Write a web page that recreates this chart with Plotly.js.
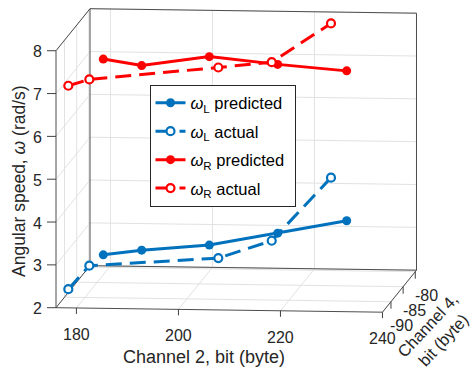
<!DOCTYPE html>
<html><head><meta charset="utf-8">
<script src="https://cdn.plot.ly/plotly-3.0.1.min.js"></script>
<style>html,body{margin:0;padding:0;background:#fff}#chart{width:470px;height:376px}</style>
</head><body><div id="chart"></div>
<script>
// ---- data (Channel 2 = x, Channel 4 = y, angular speed = z) ----
const ch2Pred = [182.65, 189.70, 202.48, 215.41, 228.46];
const ch4Pred = [-88, -87, -86, -85, -84];
const wLPred = [2.86, 2.91, 2.98, 3.21, 3.45];
const wRPred = [7.43, 7.22, 7.38, 7.15, 6.95];
const ch2Act = [177.70, 178.96, 204.72, 214.24, 224.43];
const ch4Act = [-92, -86, -87, -85, -82];
const wLAct = [2.33, 2.46, 2.75, 3.03, 4.31];
const wRAct = [7.08, 6.81, 7.20, 7.20, 7.91];
const xTicks = [180, 200, 220, 240];
const yTicks = [-90, -85, -80];
const zTicks = [2, 3, 4, 5, 6, 7, 8];
const xRange = [176, 240], yRange = [-93.5, -79.5], zRange = [2, 8];

// ---- 3D view (orthographic, MATLAB-like) ----
const VIEW = {az: 6.03, el: 7.5};
const BOX = {x0: 56, y0: 307.7, lx: 328.3, ly: 323.7, lz: 259.2};
const T = VIEW.az * Math.PI / 180, P = VIEW.el * Math.PI / 180;
function proj(x, y, z) {
  const u = (x - xRange[0]) / (xRange[1] - xRange[0]);
  const v = (y - yRange[0]) / (yRange[1] - yRange[0]);
  const w = (z - zRange[0]) / (zRange[1] - zRange[0]);
  const px = BOX.x0 + BOX.lx * u * Math.cos(T) + BOX.ly * v * Math.sin(T);
  const py = BOX.y0 + BOX.lx * u * Math.sin(P) * Math.sin(T) - BOX.ly * v * Math.sin(P) * Math.cos(T) - BOX.lz * w * Math.cos(P);
  return [px, py];
}
function segTrace(pairs, color, width) {
  const xs = [], ys = [];
  pairs.forEach(([a, b]) => { const pa = proj(...a), pb = proj(...b); xs.push(pa[0], pb[0], null); ys.push(pa[1], pb[1], null); });
  return {type: 'scatter', mode: 'lines', x: xs, y: ys, line: {color: color, width: width}, hoverinfo: 'skip', showlegend: false};
}
function tickTrace(pts, dx, dy) {
  const xs = [], ys = [];
  pts.forEach(p => { const q = proj(...p); xs.push(q[0], q[0] + dx, null); ys.push(q[1], q[1] + dy, null); });
  return {type: 'scatter', mode: 'lines', x: xs, y: ys, line: {color: '#404040', width: 1}, hoverinfo: 'skip', showlegend: false};
}
const [x0, x1] = xRange, [y0, y1] = yRange, [z0, z1] = zRange;
const grid = [];
zTicks.forEach(z => { grid.push([[x0, y1, z], [x1, y1, z]]); grid.push([[x0, y0, z], [x0, y1, z]]); });
xTicks.forEach(x => { grid.push([[x, y1, z0], [x, y1, z1]]); grid.push([[x, y0, z0], [x, y1, z0]]); });
yTicks.forEach(y => { grid.push([[x0, y, z0], [x0, y, z1]]); grid.push([[x0, y, z0], [x1, y, z0]]); });
const box = [
  [[x0, y0, z0], [x1, y0, z0]], [[x1, y0, z0], [x1, y1, z0]], [[x1, y1, z0], [x0, y1, z0]], [[x0, y1, z0], [x0, y0, z0]],
  [[x0, y1, z0], [x0, y1, z1]], [[x0, y1, z1], [x1, y1, z1]], [[x1, y1, z1], [x1, y1, z0]],
  [[x0, y0, z0], [x0, y0, z1]], [[x0, y0, z1], [x0, y1, z1]]
];

const BLUE = '#0072BD', RED = '#FF0000';
function dataTrace(name, xs, ys, zs, color, dash, open) {
  const p = xs.map((x, i) => proj(x, ys[i], zs[i]));
  return {type: 'scatter', mode: 'lines+markers', name: name, legendgroup: name,
    x: p.map(q => q[0]), y: p.map(q => q[1]), cliponaxis: false, hoverinfo: 'skip',
    line: {color: color, width: 3, dash: dash},
    marker: {symbol: 'circle', size: open ? 8 : 9, color: open ? '#ffffff' : color, line: {color: color, width: open ? 2.2 : 0}}};
}
const DASH = '16px,8px';
const data = [
  segTrace(grid, '#e2e2e2', 1),
  segTrace(box, '#4d4d4d', 1),
  tickTrace(xTicks.map(x => [x, y0, z0]), 0, 6),
  tickTrace(yTicks.map(y => [x1, y, z0]), 0, 7),
  tickTrace(zTicks.map(z => [x0, y0, z]), -9, 0),
  dataTrace('<i>ω</i><sub>L</sub> predicted&nbsp;', ch2Pred, ch4Pred, wLPred, BLUE, 'solid', false),
  dataTrace('<i>ω</i><sub>L</sub> actual', ch2Act, ch4Act, wLAct, BLUE, DASH, true),
  dataTrace('<i>ω</i><sub>R</sub> predicted&nbsp;', ch2Pred, ch4Pred, wRPred, RED, 'solid', false),
  dataTrace('<i>ω</i><sub>R</sub> actual', ch2Act, ch4Act, wRAct, RED, DASH, true)
];

const FONT = 'Liberation Sans, Arial, Helvetica, sans-serif';
const TXT = '#262626';
const ann = [];
xTicks.forEach(x => { const q = proj(x, y0, z0); ann.push({text: String(x), x: q[0], y: q[1] + 26.5, xanchor: 'center', yanchor: 'middle'}); });
yTicks.forEach(y => { const q = proj(x1, y, z0); ann.push({text: String(y), x: q[0] + 11, y: q[1] + 23.5, xanchor: 'center', yanchor: 'middle'}); });
zTicks.forEach(z => { const q = proj(x0, y0, z); ann.push({text: String(z), x: q[0] - 12, y: q[1] + 1, xanchor: 'right', yanchor: 'middle'}); });
ann.forEach(a => { a.xref = 'x'; a.yref = 'y'; a.showarrow = false; a.font = {family: FONT, size: 16, color: TXT}; });
ann.push({text: 'Channel 2, bit (byte)', xref: 'x', yref: 'y', x: 204, y: 357, xanchor: 'center', yanchor: 'middle', showarrow: false, font: {family: FONT, size: 18, color: TXT}});
ann.push({text: 'Angular speed, <i>ω</i> (rad/s)', xref: 'x', yref: 'y', x: 19, y: 181, xanchor: 'center', yanchor: 'middle', textangle: -90, showarrow: false, font: {family: FONT, size: 17.5, color: TXT}});
ann.push({text: 'Channel 4,<br>bit (byte)', xref: 'x', yref: 'y', x: 435, y: 332, xanchor: 'center', yanchor: 'middle', textangle: -47, showarrow: false, font: {family: FONT, size: 16.5, color: TXT}});

const layout = {
  width: 470, height: 376, margin: {l: 0, r: 0, t: 0, b: 0, pad: 0},
  paper_bgcolor: '#ffffff', plot_bgcolor: '#ffffff',
  font: {family: FONT, size: 16, color: TXT},
  xaxis: {range: [0, 470], visible: false, fixedrange: true},
  yaxis: {range: [376, 0], visible: false, fixedrange: true},
  showlegend: true,
  legend: {x: 149.5 / 470, y: 1 - 84.5 / 376, xanchor: 'left', yanchor: 'top', bgcolor: '#ffffff',
    bordercolor: '#262626', borderwidth: 1, traceorder: 'grouped', tracegroupgap: 4,
    font: {family: FONT, size: 16.5, color: '#000000'}},
  annotations: ann
};
Plotly.newPlot('chart', data, layout, {displayModeBar: false, staticPlot: true});
</script></body></html>
